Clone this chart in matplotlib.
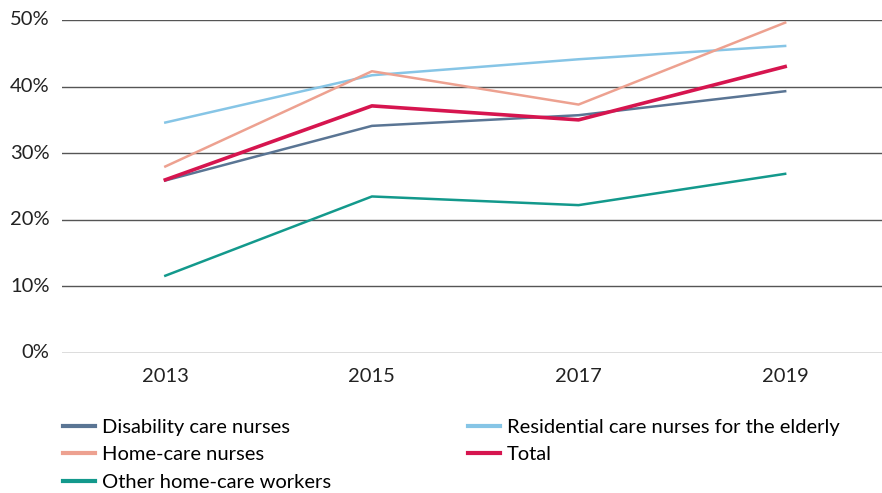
import matplotlib.pyplot as plt

plt.rcParams['font.family'] = ['Lato', 'DejaVu Sans']

years = ["2013", "2015", "2017", "2019"]
disability = [25.9, 34.1, 35.7, 39.3]
residential = [34.6, 41.7, 44.1, 46.1]
home_care = [28.0, 42.3, 37.3, 49.6]
total = [26.0, 37.1, 35.0, 43.0]
other_home = [11.6, 23.5, 22.2, 26.9]
y_ticks = [0, 10, 20, 30, 40, 50]

fig = plt.figure(figsize=(8.82, 4.93), dpi=100)
ax = fig.add_axes([0.0703, 0.284, 0.93, 0.6755])

x = range(len(years))
l1, = ax.plot(x, disability, color="#5a7594", lw=1.8, label="Disability care nurses")
l2, = ax.plot(x, residential, color="#86c5e6", lw=1.8, label="Residential care nurses for the elderly")
l3, = ax.plot(x, home_care, color="#eda190", lw=1.8, label="Home-care nurses")
l5, = ax.plot(x, other_home, color="#13998c", lw=1.8, label="Other home-care workers")
l4, = ax.plot(x, total, color="#d6154f", lw=2.6, label="Total")

ax.set_xlim(-0.5, 3.47)
ax.set_ylim(0, 50)
ax.set_xticks(list(x))
ax.set_xticklabels(years)
ax.set_yticks(y_ticks)
ax.set_yticklabels([f"{t}%" for t in y_ticks])
ax.tick_params(length=0, labelsize=14.5, colors="#222222")
ax.tick_params(axis="x", pad=11)
ax.tick_params(axis="y", pad=9)
for s in ax.spines.values():
    s.set_visible(False)
ax.grid(axis="y", color="#555555", lw=1.0)
ax.set_axisbelow(True)
for lab in ax.get_yticklabels():
    lab.set_verticalalignment("center")

fig.legend(handles=[l1, l3, l5, l2, l4], ncol=2, loc="upper left",
           bbox_to_anchor=(0.071, 0.151), frameon=False, fontsize=14.5,
           handlelength=1.6, handletextpad=0.35, columnspacing=6.8,
           labelspacing=0.52, borderaxespad=0, borderpad=0)
for h in fig.legends[0].legend_handles:
    h.set_linewidth(3)

fig.savefig("out.png", dpi=100)
